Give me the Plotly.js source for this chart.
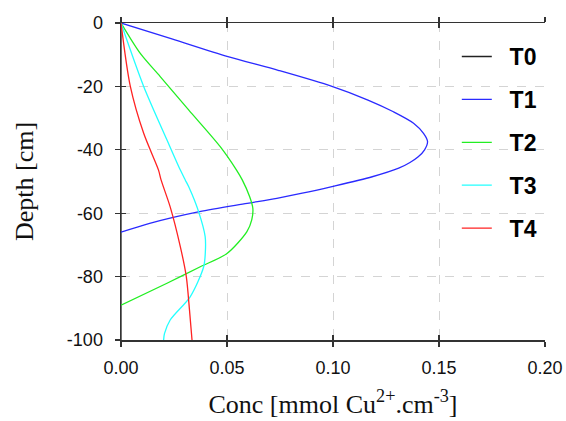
<!DOCTYPE html>
<html>
<head>
<meta charset="utf-8">
<script src="https://cdn.plot.ly/plotly-3.0.1.min.js"></script>
<style>html,body{margin:0;padding:0;background:#fff;}#chart{width:566px;height:421px;}</style>
</head>
<body>
<div id="chart"></div>
<script>
// Data
const seriesNames = ["T0", "T1", "T2", "T3", "T4"];

const t0Depth = [0, -100];
const t0Conc  = [0, 0];

const t1Depth = [0, -5, -10.5, -15, -20, -24.3, -28, -31.6, -34.8, -37.4, -40, -42.2, -44, -45.8, -48.5, -51.6, -53.7, -55.3, -56.9, -59.5, -63.2, -66];
const t1Conc  = [0, 0.024, 0.05, 0.0745, 0.0995, 0.1165, 0.1285, 0.138, 0.1427, 0.1446, 0.1432, 0.1402, 0.1363, 0.131, 0.1185, 0.0995, 0.0855, 0.0735, 0.0595, 0.037, 0.0135, 0];

const t2Depth = [0, -9.6, -16.9, -27.4, -39, -46.4, -49.5, -54.8, -58.5, -62, -65.8, -72.7, -76.9, -82.1, -89];
const t2Conc  = [0, 0.0091, 0.0185, 0.0319, 0.0468, 0.0545, 0.0572, 0.0607, 0.0622, 0.0617, 0.0594, 0.05, 0.0374, 0.0217, 0];

const t3Depth = [0, -20, -36.9, -46.4, -49.5, -51.6, -59.5, -67.4, -72, -76.9, -86.3, -93.7, -98, -100];
const t3Conc  = [0, 0.0107, 0.0217, 0.028, 0.0303, 0.0319, 0.0366, 0.0397, 0.0398, 0.039, 0.0327, 0.0232, 0.0205, 0.0201];

const t4Depth = [0, -20, -34.8, -46.4, -49.5, -58, -70.6, -80, -90.5, -100];
const t4Conc  = [0, 0.0044, 0.0107, 0.0177, 0.0189, 0.0232, 0.028, 0.0308, 0.0323, 0.0335];

const xTickVals = [0, 0.05, 0.10, 0.15, 0.20];
const xTickText = ["0.00", "0.05", "0.10", "0.15", "0.20"];
const yTickVals = [0, -20, -40, -60, -80, -100];
const yTickText = ["0", "-20", "-40", "-60", "-80", "-100"];

const colors = ["#222222", "#2a2aff", "#22ee22", "#22ffff", "#ff2222"];
const depths = [t0Depth, t1Depth, t2Depth, t3Depth, t4Depth];
const concs  = [t0Conc, t1Conc, t2Conc, t3Conc, t4Conc];

const traces = seriesNames.map((n, i) => ({
  x: concs[i], y: depths[i], name: "&nbsp;&nbsp;" + n,
  type: "scatter", mode: "lines",
  line: {color: colors[i], width: 1.3, shape: "spline", smoothing: 0.8},
  legendgroup: "g" + i, hoverinfo: "skip"
}));
// helper trace so the overlay axes (inner tick marks) are drawn
traces.push({x: [0], y: [0], xaxis: "x2", yaxis: "y2", mode: "markers",
  marker: {opacity: 0}, showlegend: false, hoverinfo: "skip"});

const axisCol = "#333333";
const layout = {
  width: 566, height: 421,
  margin: {l: 121, r: 21, t: 23, b: 81},
  paper_bgcolor: "#ffffff", plot_bgcolor: "#ffffff",
  showlegend: true,
  legend: {x: 0.792, y: 0.962, xanchor: "left", yanchor: "top",
    bgcolor: "rgba(0,0,0,0)", traceorder: "grouped", tracegroupgap: 10,
    font: {family: "Liberation Sans, Arial, sans-serif", size: 23, color: "#000", weight: "bold"}},
  xaxis: {range: [0, 0.2], tickvals: xTickVals, ticktext: xTickText,
    showline: true, linecolor: axisCol, linewidth: 1.5, mirror: "ticks",
    ticks: "outside", ticklen: 5, tickwidth: 1.2, tickcolor: axisCol,
    showgrid: true, gridcolor: "#d4d4d4", griddash: "dash", gridwidth: 1,
    zeroline: false, ticklabelstandoff: 6,
    tickfont: {family: "Liberation Sans, Arial, sans-serif", size: 18, color: "#111"},
    title: {text: "Conc [mmol Cu<sup>2+</sup>.cm<sup>-3</sup>]", standoff: 17,
      font: {family: "Liberation Serif, Times New Roman, serif", size: 26, color: "#111"}}},
  yaxis: {range: [-100, 0], tickvals: yTickVals, ticktext: yTickText,
    showline: true, linecolor: axisCol, linewidth: 1.5,
    ticks: "outside", ticklen: 5, tickwidth: 1.2, tickcolor: axisCol,
    showgrid: true, gridcolor: "#d4d4d4", griddash: "dash", gridwidth: 1,
    zeroline: false, ticklabelstandoff: 8,
    tickfont: {family: "Liberation Sans, Arial, sans-serif", size: 18, color: "#111"},
    title: {text: "Depth [cm]", standoff: 26,
      font: {family: "Liberation Serif, Times New Roman, serif", size: 26, color: "#111"}}},
  xaxis2: {overlaying: "x", range: [0, 0.2], tickvals: xTickVals,
    showticklabels: false, ticks: "inside", ticklen: 5, tickwidth: 1.2, tickcolor: axisCol,
    mirror: "ticks", showline: true, linecolor: axisCol, linewidth: 1.5,
    showgrid: false, zeroline: false},
  yaxis2: {overlaying: "y", side: "left", range: [-100, 0], tickvals: yTickVals,
    showticklabels: false, ticks: "inside", ticklen: 5, tickwidth: 1.2, tickcolor: axisCol,
    showline: false, showgrid: false, zeroline: false}
};

Plotly.newPlot("chart", traces, layout, {staticPlot: true, displayModeBar: false});
</script>
</body>
</html>
